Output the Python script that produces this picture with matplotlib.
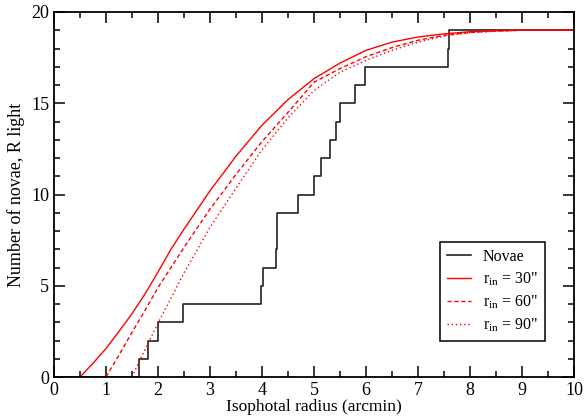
import numpy as np
import matplotlib
matplotlib.use("Agg")
import matplotlib.pyplot as plt
from matplotlib.ticker import MultipleLocator

# Novae cumulative steps (radii in arcmin where count increases)
novae_radii = [1.64, 1.80, 2.00, 2.49, 3.99, 4.01, 4.26, 4.28, 4.29, 4.70,
               5.00, 5.13, 5.30, 5.42, 5.50, 5.79, 5.98, 7.58, 7.60]

# Model curves
r30_x = [0.5, 0.75, 1.0, 1.25, 1.5, 1.75, 2.0, 2.25, 2.5, 3.0, 3.5, 4.0, 4.5,
         5.0, 5.5, 6.0, 6.5, 7.0, 7.5, 8.0, 8.5, 9.0, 10.0]
r30_y = [0.0, 0.75, 1.56, 2.5, 3.47, 4.55, 5.75, 7.0, 8.1, 10.2, 12.1, 13.8, 15.2,
         16.35, 17.2, 17.9, 18.35, 18.63, 18.8, 18.92, 18.97, 19.0, 19.0]

r60_x = [1.0, 1.25, 1.5, 1.75, 2.0, 2.5, 3.0, 3.5, 4.0, 4.5, 5.0, 5.5, 6.0,
         6.5, 7.0, 7.5, 8.0, 8.5, 9.0, 10.0]
r60_y = [0.0, 1.2, 2.45, 3.65, 4.9, 7.1, 9.2, 11.1, 12.9, 14.5, 16.15, 16.9, 17.55,
         18.05, 18.45, 18.72, 18.88, 18.96, 19.0, 19.0]

r90_x = [1.5, 1.75, 2.0, 2.5, 3.0, 3.5, 4.0, 4.5, 5.0, 5.5, 6.0, 6.5, 7.0,
         7.5, 8.0, 8.5, 9.0, 10.0]
r90_y = [0.0, 1.5, 2.95, 5.7, 8.2, 10.35, 12.45, 14.2, 15.7, 16.7, 17.35, 17.9, 18.35,
         18.68, 18.87, 18.95, 19.0, 19.0]

plt.rcParams['font.family'] = ['Liberation Serif', 'DejaVu Serif']
plt.rcParams['mathtext.fontset'] = 'custom'
plt.rcParams['mathtext.rm'] = 'Liberation Serif'
plt.rcParams['mathtext.it'] = 'Liberation Serif:italic'

fig = plt.figure(figsize=(5.86, 4.16), dpi=100)
ax = fig.add_axes([54/586, 1-377/416, 520/586, 365/416])

step_x = [0.0] + novae_radii + [10.0]
step_y = list(range(0, len(novae_radii) + 1)) + [len(novae_radii)]
ax.step(step_x, step_y, where='post', color='#222222', lw=1.2, label='Novae')
ax.plot(r30_x, r30_y, color='red', lw=1.0, ls='-', label='r$_{\\rm in}$ = 30"')
ax.plot(r60_x, r60_y, color='red', lw=1.0, ls=(0, (3, 2)), label='r$_{\\rm in}$ = 60"')
ax.plot(r90_x, r90_y, color='red', lw=1.0, ls=(0, (1, 2)), label='r$_{\\rm in}$ = 90"')

ax.set_xlim(0, 10)
ax.set_ylim(0, 20)
ax.xaxis.set_major_locator(MultipleLocator(1))
ax.xaxis.set_minor_locator(MultipleLocator(0.5))
ax.yaxis.set_major_locator(MultipleLocator(5))
ax.yaxis.set_minor_locator(MultipleLocator(1))
ax.tick_params(which='both', direction='in', top=True, right=True, labelsize=13, width=1.1)
ax.tick_params(which='major', length=8)
ax.tick_params(which='minor', length=4)
for s in ax.spines.values():
    s.set_linewidth(1.3)

ax.set_xlabel('Isophotal radius (arcmin)', fontsize=12.5, labelpad=0)
ax.set_ylabel('Number of novae, R light', fontsize=13, labelpad=4)

leg = ax.legend(loc='lower right', bbox_to_anchor=(0.944, 0.099), borderaxespad=0,
                fontsize=11.5, fancybox=False, framealpha=1, edgecolor='black',
                handlelength=1.5, handletextpad=0.7, labelspacing=0.35, borderpad=0.45)
leg.get_frame().set_linewidth(1.1)

fig.savefig('out.png', dpi=100)
